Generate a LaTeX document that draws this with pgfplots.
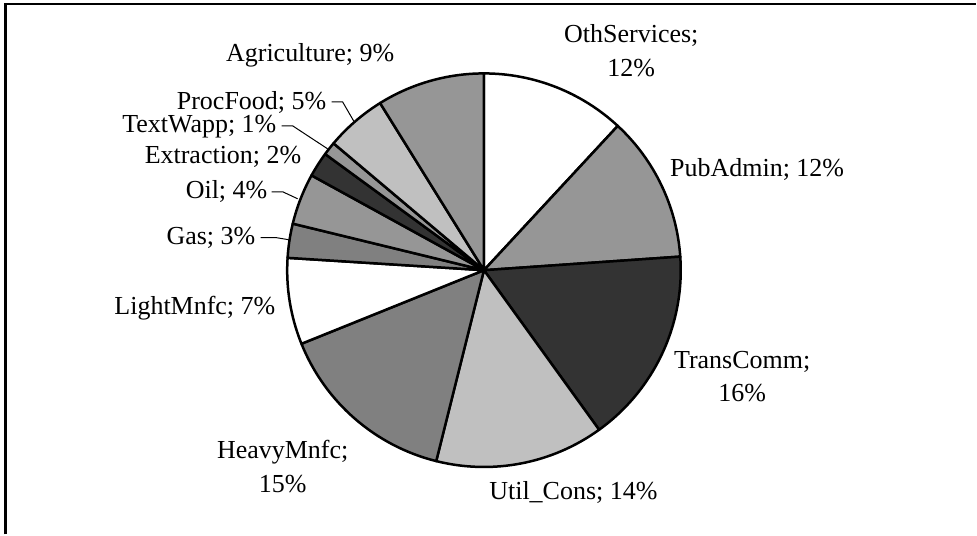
\documentclass[border=0pt]{standalone}
\usepackage{pgfplots}
\pgfplotsset{compat=1.18}
\usepackage{fontspec}
\setmainfont{Liberation Serif}
\definecolor{gA}{HTML}{969696}
\definecolor{gD}{HTML}{333333}
\definecolor{gL}{HTML}{C0C0C0}
\definecolor{gM}{HTML}{808080}
\begin{document}
\begin{tikzpicture}
\begin{axis}[
  x=0.5pt, y=0.5pt,
  xmin=0, xmax=977, ymin=0, ymax=535,
  enlargelimits=false,
  hide axis, clip=false,
]
\addplot[draw=none] coordinates {(0,0) (977,535)};
\path (axis cs:0,0) rectangle (axis cs:977,535);
% frame (top and left edges visible)
\draw[line width=1.1pt] (axis cs:5.5,0) -- (axis cs:5.5,531) -- (axis cs:977,531);
% pie slices: share (%) / colour, clockwise from 12 o'clock
\xdef\cum{0}
\foreach \v/\c in {11.9/white, 12.0/gA, 16.15/gD, 13.85/gL, 15.0/gM, 7.1/white, 2.8/gM, 4.2/gA, 2.05/gD, 1.1/gA, 5.0/gL, 8.85/gA}{
  \pgfmathsetmacro\a{90-3.6*\cum}
  \pgfmathsetmacro\b{\a-3.6*\v}
  \edef\temp{\noexpand\filldraw[fill=\c, draw=black, line width=1.25pt, line join=round]
    (axis cs:484.5,264.5) -- ++(\a:98.5pt) arc[start angle=\a, end angle=\b, radius=98.5pt] -- cycle;}
  \temp
  \pgfmathsetmacro\n{\cum+\v}
  \xdef\cum{\n}
}
% labels
\tikzset{lbl/.style={font=\fontsize{13}{17}\selectfont, inner sep=0pt}}
\node[lbl, align=center] at (axis cs:632,484) {OthServices;\\12\%};
\node[lbl] at (axis cs:758,365) {PubAdmin; 12\%};
\node[lbl, align=center] at (axis cs:743,158) {TransComm;\\16\%};
\node[lbl] at (axis cs:574,42) {Util\_Cons; 14\%};
\node[lbl, align=center] at (axis cs:283,68) {HeavyMnfc;\\15\%};
\node[lbl, anchor=east] at (axis cs:276,226) {LightMnfc; 7\%};
\node[lbl, anchor=east] at (axis cs:256,297) {Gas; 3\%};
\node[lbl, anchor=east] at (axis cs:268,343) {Oil; 4\%};
\node[lbl, anchor=east] at (axis cs:302,378) {Extraction; 2\%};
\node[lbl, anchor=east] at (axis cs:277,408) {TextWapp; 1\%};
\node[lbl, anchor=east] at (axis cs:327,432) {ProcFood; 5\%};
\node[lbl, anchor=east] at (axis cs:395,480) {Agriculture; 9\%};
% leader lines
\draw[line width=0.5pt] (axis cs:261,297) -- (axis cs:277,297) -- (axis cs:289,295);
\draw[line width=0.5pt] (axis cs:272,343) -- (axis cs:283,343) -- (axis cs:298,336);
\draw[line width=0.5pt] (axis cs:282,409) -- (axis cs:293,409) -- (axis cs:328,386);
\draw[line width=0.5pt] (axis cs:332,433) -- (axis cs:343,433) -- (axis cs:354,414);
\end{axis}
\end{tikzpicture}
\end{document}
